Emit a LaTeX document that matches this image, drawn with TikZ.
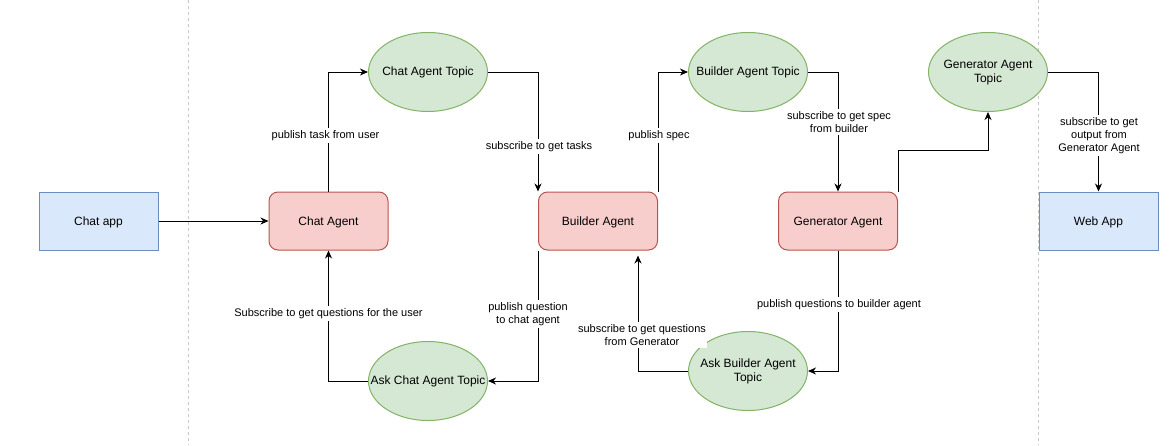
\documentclass[tikz,border=0pt]{standalone}
\usepackage{fontspec}
\setmainfont{Liberation Sans}
\usetikzlibrary{arrows.meta,shapes.geometric}

\definecolor{appfill}{HTML}{DAE8FC}
\definecolor{appline}{HTML}{6C8EBF}
\definecolor{agentfill}{HTML}{F8CECC}
\definecolor{agentline}{HTML}{B85450}
\definecolor{topicfill}{HTML}{D5E8D4}
\definecolor{topicline}{HTML}{82B366}
\definecolor{sepgray}{HTML}{C8C8C8}

\tikzset{
  app/.style={rectangle, draw=appline, fill=appfill, line width=1pt,
    minimum width=119pt, minimum height=58pt, text depth=0pt,
    font=\fontsize{12}{14}\selectfont},
  agent/.style={app, draw=agentline, fill=agentfill, rounded corners=9pt},
  topic/.style={ellipse, draw=topicline, fill=topicfill, line width=1pt,
    minimum width=119pt, minimum height=79pt, inner sep=0pt},
  tname/.style={font=\fontsize{12}{14}\selectfont, align=center, yshift=-.5pt},
  lbl/.style={fill=white, inner xsep=1pt, inner ysep=2.5pt, align=center,
    yshift=-2.3pt, font=\fontsize{11}{13}\selectfont},
  flow/.style={-{Stealth[length=8pt,width=7pt,inset=2.5pt]}, line width=1pt},
  sep/.style={sepgray, line width=.8pt, dash pattern=on 3pt off 3pt}
}

\begin{document}
\begin{tikzpicture}[x=1pt, y=-1pt]
  \useasboundingbox (0,0) rectangle (1171,445);
  \draw[sep] (188,0) -- (188,445);
  \draw[sep] (1038,0) -- (1038,445);

  % apps and agents
  \node[app] (chatapp) at (98.5,221) {Chat app};
  \node[agent] (chatagent) at (328.5,221) {Chat Agent};
  \node[agent] (builder) at (598,221) {Builder Agent};
  \node[agent] (generator) at (838,221) {Generator Agent};
  \node[app] (webapp) at (1098.5,221) {Web App};

  % topics
  \node[topic, label={[tname]center:Chat Agent Topic}] (chattopic) at (428,72) {};
  \node[topic, label={[tname]center:Builder Agent Topic}] (buildtopic) at (748,72) {};
  \node[topic, label={[tname]center:{Generator Agent\\Topic}}] (gentopic) at (988,72) {};
  \node[topic, label={[tname]center:Ask Chat Agent Topic}] (askchat) at (428,381) {};
  \node[topic, label={[tname]center:{Ask Builder Agent\\Topic}}] (askbuild) at (748,371) {};

  \draw[flow] (chatapp) -- (chatagent);
  \draw[flow] (chatagent.north) |- (chattopic.west);
  \draw[flow] (chattopic.east) -| (builder.north west);
  \draw[flow] (builder.north east) |- (buildtopic.west);
  \draw[flow] (buildtopic.east) -| (generator.north);
  \draw[flow] (generator.north east) -- ++(0,-41) -| (gentopic.south);
  \draw[flow] (gentopic.east) -| (webapp.north);
  \draw[flow] (builder.south west) |- (askchat.east);
  \draw[flow] (askchat.west) -| (chatagent.south);
  \draw[flow] (generator.south) |- (askbuild.east);
  \draw[flow] (askbuild.west) -| ([xshift=40pt,yshift=-5pt]builder.south);

  % edge labels
  \node[lbl] (l-task) at (325.5,133) {publish task from user};
  \node[lbl] (l-tasks) at (539,144) {subscribe to get tasks};
  \node[lbl] (l-spec) at (659,133) {publish spec};
  \node[lbl] (l-getspec) at (839,119.5) {subscribe to get spec\\from builder};
  \node[lbl] (l-output) at (1099,133) {subscribe to get\\output from\\Generator Agent};
  \node[lbl] (l-question) at (528,312) {publish question\\to chat agent};
  \node[lbl] (l-userq) at (328.5,311) {Subscribe to get questions for the user};
  \node[lbl] (l-builderq) at (839,302) {publish questions to builder agent};
  \node[lbl] (l-genq) at (642,332.5) {subscribe to get questions\\from Generator};
\end{tikzpicture}
\end{document}
